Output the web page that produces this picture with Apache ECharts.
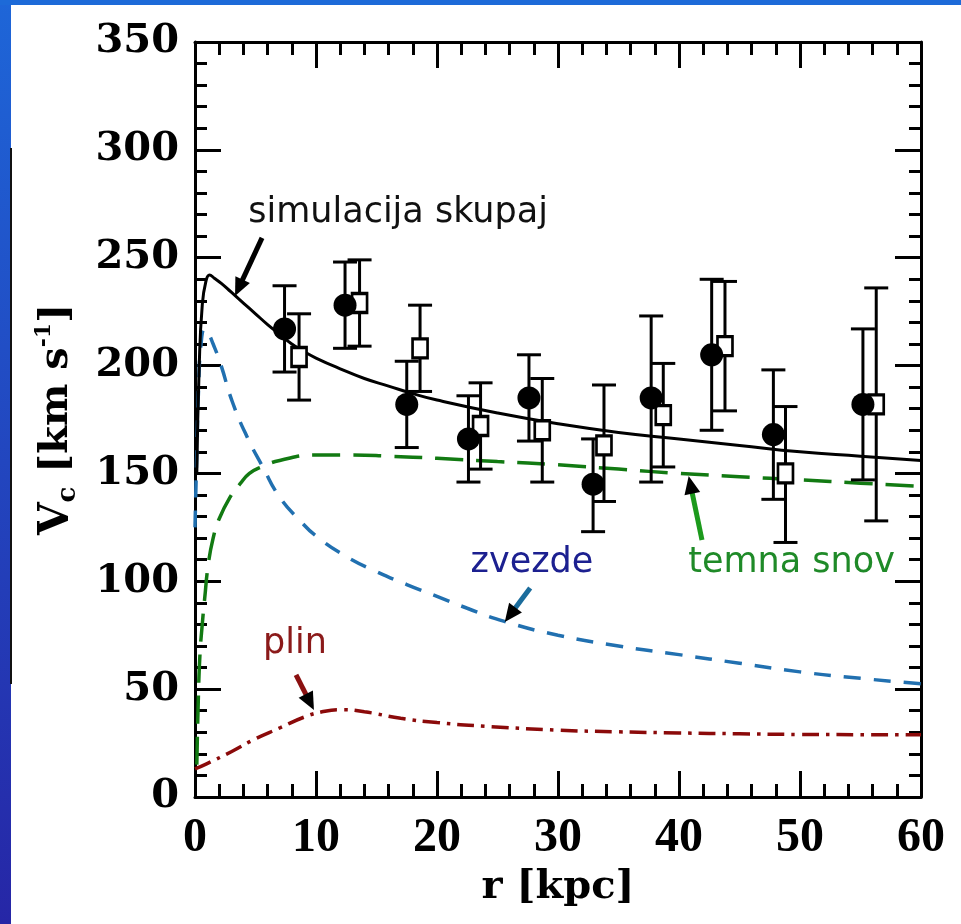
<!DOCTYPE html>
<html><head><meta charset="utf-8">
<script src="https://cdn.jsdelivr.net/npm/echarts@6/dist/echarts.min.js"></script>
<style>html,body{margin:0;padding:0;background:#fff;} #c{width:961px;height:924px;}</style>
</head><body><div id="c"></div>
<script>
// ---- data (r in kpc, V in km/s) ----
const circleR  = [7.4, 12.4, 17.5, 22.6, 27.6, 32.9, 37.7, 42.7, 47.8, 55.2];
const circleV  = [217, 228, 182, 166, 185, 145, 185, 205, 168, 182];
const circleLo = [197, 208, 162, 146, 165, 123, 146, 170, 138, 147];
const circleHi = [237, 248, 202, 186, 205, 166, 223, 240, 198, 217];

const squareR  = [8.6, 13.6, 18.6, 23.6, 28.7, 33.8, 38.7, 43.8, 48.8, 56.3];
const squareV  = [204, 229, 208, 172, 170, 163, 177, 209, 150, 182];
const squareLo = [184, 209, 188, 152, 146, 137, 153, 179, 118, 128];
const squareHi = [224, 249, 228, 192, 194, 191, 201, 239, 181, 236];

const totalR = [0.15, 0.35, 0.6, 0.9, 1.2, 1.6, 2.2, 3.0, 4.0, 5.0, 6.0, 7.0, 8.0, 9.0, 10, 12, 14, 16, 18, 20, 25, 30, 35, 40, 45, 50, 55, 60];
const totalV = [150, 200, 228, 239, 242, 240.5, 238, 234, 229, 224, 219, 214.5, 210, 206.5, 203.5, 198.5, 194, 190.5, 187, 184, 178, 173, 169, 166, 163, 160, 158, 156];

const starsR = [0, 0.15, 0.3, 0.5, 0.8, 1.1, 1.5, 2.1, 3.1, 4.3, 5.6, 7.0, 8.7, 10, 12.5, 15, 17.5, 20, 22.5, 25.5, 30, 35, 40, 45, 50, 55, 60];
const starsV = [125, 160, 190, 210, 217, 215, 210, 201, 183, 167, 153, 139, 128, 121, 111.5, 104.5, 98.5, 93, 87.5, 81.5, 75, 70, 66, 62, 58, 55, 52.5];

const darkR = [0.15, 0.25, 0.4, 0.6, 0.8, 1.1, 1.5, 2.0, 2.9, 3.7, 4.5, 5.5, 7.0, 10, 13, 16, 20, 25, 30, 35, 40, 45, 50, 55, 60];
const darkV = [15, 40, 65, 80, 92, 108, 120, 129, 139, 145, 150, 153, 156, 158.5, 158.5, 158, 157, 155.5, 154, 152, 150, 148.5, 147, 145.5, 144];

const gasR = [0, 1, 3, 5, 7, 9, 10.5, 12, 14, 17, 20, 24, 30, 35, 40, 45, 50, 55, 60];
const gasV = [13, 15.5, 21, 27, 32, 37, 39.5, 40.5, 39.5, 36.5, 34.5, 32.8, 31, 30.2, 29.7, 29.3, 29, 28.9, 28.8];

// annotations (data coordinates)
const annoText   = ['simulacija skupaj', 'zvezde', 'temna snov', 'plin'];
const annoTextR  = [4.4, 27.85, 49.3, 8.26];
const annoTextV  = [271, 108.5, 108.5, 71];
const annoAlign  = ['left', 'center', 'center', 'center'];
const annoColor  = ['#111111', '#1c2090', '#1f8a28', '#8b1a1a'];
const arrowFromR = [5.54, 27.7, 41.9, 8.35];
const arrowFromV = [259.2, 96.9, 119.1, 56.6];
const arrowToR   = [3.31, 25.6, 40.8, 9.83];
const arrowToV   = [232.3, 81.1, 148.8, 40.3];
const arrowColor = ['#000000', '#1b6c9c', '#1c9a1c', '#8b1010'];

const zip = (a, b) => a.map((v, i) => [v, b[i]]);

function errRenderer(capHalf) {
  return function (params, api) {
    const x = api.value(0), lo = api.value(1), hi = api.value(2);
    const a = api.coord([x, lo]), b = api.coord([x, hi]);
    const st = { stroke: '#000', lineWidth: 3, fill: null };
    return { type: 'group', children: [
      { type: 'line', shape: { x1: a[0], y1: a[1], x2: b[0], y2: b[1] }, style: st },
      { type: 'line', shape: { x1: a[0] - capHalf, y1: a[1], x2: a[0] + capHalf, y2: a[1] }, style: st },
      { type: 'line', shape: { x1: b[0] - capHalf, y1: b[1], x2: b[0] + capHalf, y2: b[1] }, style: st }
    ]};
  };
}

const serifBold = { fontFamily: 'DejaVu Serif', fontWeight: 'bold', color: '#000' };
const axisLine = { show: true, onZero: false, lineStyle: { color: '#000', width: 3 } };

function xAx(pos, labels) {
  return {
    type: 'value', position: pos, min: 0, max: 60, interval: 10,
    axisLine: axisLine,
    axisTick: { show: true, inside: true, length: 26, lineStyle: { color: '#000', width: 3 } },
    minorTick: { show: true, splitNumber: 5, length: 13, lineStyle: { color: '#000', width: 3 } },
    splitLine: { show: false },
    axisLabel: labels ? { show: true, margin: 18, fontFamily: 'Liberation Serif', fontWeight: 'bold', fontSize: 48, color: '#000' } : { show: false },
    name: labels ? 'r [kpc]' : '', nameLocation: 'middle', nameGap: 66,
    nameTextStyle: Object.assign({ fontSize: 40 }, serifBold)
  };
}
function yAx(pos, labels) {
  return {
    type: 'value', position: pos, min: 0, max: 350, interval: 50,
    axisLine: axisLine,
    axisTick: { show: true, inside: true, length: 26, lineStyle: { color: '#000', width: 3 } },
    minorTick: { show: true, splitNumber: 5, length: 12, lineStyle: { color: '#000', width: 3 } },
    splitLine: { show: false },
    axisLabel: labels ? Object.assign({ show: true, margin: 16, fontSize: 40 }, serifBold) : { show: false },
    name: labels ? '{v|V}{sub|c}{t| [km s}{sup|-1}{t|]}' : '',
    nameLocation: 'middle', nameGap: 114, nameRotate: 90,
    nameTextStyle: Object.assign({ fontSize: 40, rich: {
      v:   Object.assign({ fontSize: 42, lineHeight: 48 }, serifBold),
      t:   Object.assign({ fontSize: 40, lineHeight: 48 }, serifBold),
      sub: Object.assign({ fontSize: 26, lineHeight: 26, verticalAlign: 'bottom' }, serifBold),
      sup: Object.assign({ fontSize: 22, lineHeight: 22, verticalAlign: 'top' }, serifBold)
    }}, serifBold)
  };
}

const lineSmooth = 0.5;
const chart = echarts.init(document.getElementById('c'), null, { renderer: 'canvas' });
const option = {
  animation: false,
  backgroundColor: '#ffffff',
  grid: { left: 195, right: 40, top: 42, bottom: 127, containLabel: false },
  xAxis: [xAx('bottom', true), xAx('top', false)],
  yAxis: [yAx('left', true), yAx('right', false)],
  series: [
    { type: 'line', data: zip(gasR, gasV), showSymbol: false, smooth: lineSmooth,
      lineStyle: { color: '#8b0a0a', width: 3.5, type: [17, 7, 3.5, 7] }, z: 2 },
    { type: 'line', data: zip(starsR, starsV), showSymbol: false, smooth: lineSmooth,
      lineStyle: { color: '#2170b0', width: 3.5, type: [17, 13] }, z: 2 },
    { type: 'line', data: zip(darkR, darkV), showSymbol: false, smooth: lineSmooth,
      lineStyle: { color: '#127a12', width: 3.5, type: [28, 13] }, z: 2 },
    { type: 'line', data: zip(totalR, totalV), showSymbol: false, smooth: lineSmooth,
      lineStyle: { color: '#000', width: 3, type: 'solid' }, z: 3 },
    { type: 'custom', renderItem: errRenderer(12), encode: { x: 0, y: [1, 2] },
      data: circleR.map((r, i) => [r, circleLo[i], circleHi[i]]), z: 4 },
    { type: 'custom', renderItem: errRenderer(12), encode: { x: 0, y: [1, 2] },
      data: squareR.map((r, i) => [r, squareLo[i], squareHi[i]]), z: 4 },
    { type: 'scatter', data: zip(squareR, squareV), symbol: 'rect', symbolSize: [15, 19],
      itemStyle: { color: '#fff', borderColor: '#000', borderWidth: 3, opacity: 1 }, z: 5 },
    { type: 'scatter', data: zip(circleR, circleV), symbol: 'circle', symbolSize: 23,
      itemStyle: { color: '#000', opacity: 1 }, z: 6 }
  ]
};
chart.setOption(option);

// background frame of the slide + annotations placed through the chart's scales
const g = [
  { type: 'rect', shape: { x: 0, y: 0, width: 11, height: 924 },
    style: { fill: new echarts.graphic.LinearGradient(0, 0, 0, 1, [{ offset: 0, color: '#1e66d8' }, { offset: 1, color: '#2626a6' }]) } },
  { type: 'rect', shape: { x: 0, y: 0, width: 961, height: 5 }, style: { fill: '#1d6ad8' } },
  { type: 'line', shape: { x1: 11, y1: 148, x2: 11, y2: 684 }, style: { stroke: '#111', lineWidth: 2 } }
];
const px = (r, v) => chart.convertToPixel({ xAxisIndex: 0, yAxisIndex: 0 }, [r, v]);
annoText.forEach((t, i) => {
  const p = px(annoTextR[i], annoTextV[i]);
  g.push({ type: 'text', x: p[0], y: p[1], z: 10,
    style: { text: t, fill: annoColor[i], font: '35px "DejaVu Sans"', align: annoAlign[i], verticalAlign: 'middle' } });
  const s = px(arrowFromR[i], arrowFromV[i]);
  const e = px(arrowToR[i], arrowToV[i]);
  const dx = e[0] - s[0], dy = e[1] - s[1], L = Math.hypot(dx, dy);
  const ux = dx / L, uy = dy / L, nx = -uy, ny = ux;
  const hl = 18, hw = 8;
  const bx = e[0] - ux * hl, by = e[1] - uy * hl;
  g.push({ type: 'line', z: 10, shape: { x1: s[0], y1: s[1], x2: bx + ux * 2, y2: by + uy * 2 },
    style: { stroke: arrowColor[i], lineWidth: 5 } });
  g.push({ type: 'polygon', z: 11, shape: { points: [[e[0], e[1]], [bx + nx * hw, by + ny * hw], [bx - nx * hw, by - ny * hw]] },
    style: { fill: '#000' } });
});
chart.setOption({ graphic: g });
</script>
</body></html>
